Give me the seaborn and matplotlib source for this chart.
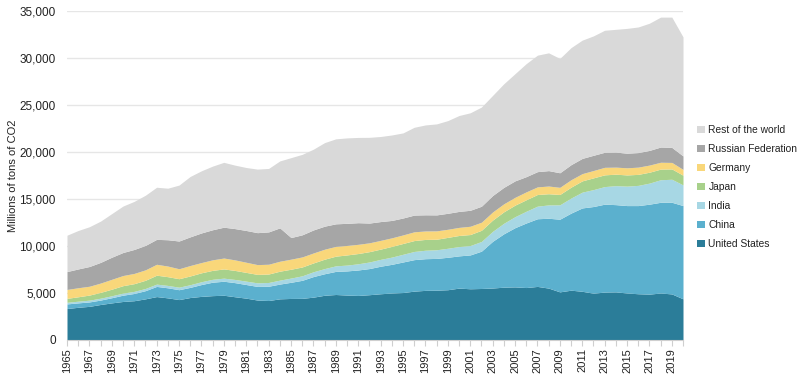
import numpy as np
import seaborn as sns
import matplotlib.pyplot as plt
from matplotlib.ticker import FuncFormatter, MultipleLocator
from matplotlib.patches import Patch

years = list(range(1965, 2021))

# Millions of tons of CO2
united_states = [3350, 3480, 3580, 3780, 3950, 4100, 4180, 4380, 4620, 4480,
                 4300, 4520, 4640, 4720, 4760, 4600, 4450, 4250, 4200, 4380,
                 4420, 4430, 4560, 4760, 4840, 4780, 4740, 4820, 4920, 5000,
                 5050, 5200, 5280, 5300, 5350, 5520, 5450, 5480, 5530, 5620,
                 5650, 5580, 5700, 5520, 5120, 5300, 5180, 4980, 5100, 5120,
                 5000, 4920, 4880, 5000, 4900, 4380]
china = [490, 470, 470, 470, 550, 670, 770, 870, 1080, 1070,
         1050, 1080, 1260, 1430, 1490, 1500, 1450, 1450, 1520, 1570,
         1720, 1920, 2190, 2290, 2460, 2570, 2710, 2780, 2930, 3050,
         3250, 3350, 3370, 3380, 3450, 3430, 3600, 3970, 4970, 5680,
         6300, 6870, 7200, 7430, 7730, 8200, 8870, 9220, 9350, 9280,
         9300, 9380, 9570, 9650, 9750, 9920]
india = [170, 180, 190, 200, 210, 220, 225, 235, 245, 255,
         270, 285, 300, 310, 330, 340, 360, 380, 400, 420,
         450, 480, 510, 550, 590, 620, 660, 700, 730, 770,
         820, 870, 900, 920, 960, 990, 1000, 1030, 1060, 1120,
         1170, 1250, 1340, 1420, 1530, 1600, 1680, 1800, 1870, 2020,
         2070, 2150, 2240, 2400, 2450, 2200]
japan = [420, 470, 540, 620, 700, 790, 820, 870, 950, 930,
         900, 930, 950, 950, 980, 960, 930, 900, 900, 950,
         940, 940, 940, 1000, 1030, 1080, 1090, 1100, 1090, 1140,
         1150, 1160, 1150, 1120, 1160, 1180, 1170, 1190, 1200, 1220,
         1230, 1220, 1240, 1190, 1100, 1160, 1200, 1250, 1250, 1220,
         1190, 1170, 1160, 1130, 1100, 1030]
germany = [950, 960, 940, 990, 1050, 1080, 1090, 1110, 1160, 1130,
           1060, 1110, 1090, 1120, 1160, 1120, 1080, 1040, 1040, 1060,
           1070, 1070, 1060, 1060, 1040, 1010, 980, 940, 930, 910,
           910, 930, 900, 890, 860, 860, 880, 860, 860, 850,
           830, 840, 810, 820, 760, 790, 770, 780, 800, 750,
           760, 770, 760, 730, 690, 620]
russia = [1900, 2000, 2100, 2200, 2350, 2450, 2550, 2600, 2650, 2800,
          2950, 3050, 3150, 3200, 3280, 3330, 3380, 3400, 3440, 3550,
          2300, 2350, 2450, 2450, 2400, 2350, 2300, 2100, 2000, 1850,
          1800, 1780, 1720, 1700, 1700, 1700, 1700, 1700, 1750, 1750,
          1750, 1620, 1620, 1640, 1550, 1600, 1620, 1620, 1600, 1600,
          1550, 1550, 1560, 1620, 1600, 1430]
rest_of_world = [3870, 4090, 4230, 4390, 4640, 4940, 5115, 5335, 5545, 5485,
                 5950, 6425, 6610, 6770, 6900, 6750, 6700, 6760, 6750, 7120,
                 8500, 8560, 8590, 8890, 9040, 9090, 9070, 9120, 9050, 9090,
                 9050, 9340, 9560, 9680, 9860, 10200, 10370, 10550, 10650, 11020,
                 11400, 12020, 12390, 12530, 12160, 12450, 12580, 12700, 12980, 13060,
                 13280, 13360, 13530, 13820, 13860, 12670]

labels = ["United States", "China", "India", "Japan", "Germany",
          "Russian Federation", "Rest of the world"]
colors = ["#2B7D99", "#5BB0CE", "#A7D7E4", "#A8D18B", "#F9D77A",
          "#A6A6A6", "#D9D9D9"]

sns.set_theme(style="white")
plt.rcParams['font.family'] = ['Liberation Sans', 'DejaVu Sans']

fig = plt.figure(figsize=(8, 3.75), dpi=100)
ax = fig.add_axes([67 / 800, 35 / 375, 616 / 800, 329 / 375])

ax.stackplot(years, united_states, china, india, japan, germany, russia,
             rest_of_world, colors=colors, linewidth=0, zorder=2)

ax.set_xlim(1965, 2020)
ax.set_ylim(0, 35000)
ax.yaxis.set_major_locator(MultipleLocator(5000))
ax.yaxis.set_major_formatter(FuncFormatter(lambda v, p: f"{int(v):,}"))
ax.grid(axis="y", color="#e6e6e6", linewidth=1, zorder=0)
ax.set_axisbelow(True)

ax.set_xticks(range(1965, 2021, 2))
ax.set_xticklabels([str(y) for y in range(1965, 2021, 2)], rotation=90)
ax.set_xticks(range(1965, 2021), minor=True)
ax.tick_params(axis="x", which="both", bottom=True, length=4, width=0.8,
               color="#cfcfcf", labelsize=8, pad=2, labelcolor="#222222")
ax.tick_params(axis="y", length=0, labelsize=8.5, labelcolor="#222222", pad=8)

for side in ["top", "right", "left"]:
    ax.spines[side].set_visible(False)
ax.spines["bottom"].set_color("#cfcfcf")
ax.spines["bottom"].set_linewidth(0.8)

ax.set_ylabel("Millions of tons of CO2", fontsize=8, color="#222222")
ax.yaxis.set_label_coords(-0.08, 0.5)

handles = [Patch(facecolor=c, edgecolor="none") for c in colors][::-1]
fig.legend(handles, labels[::-1], loc="center left",
           bbox_to_anchor=(693 / 800, 1 - 187 / 375), frameon=False,
           fontsize=7.4, handlelength=0.75, handleheight=0.75,
           handletextpad=0.35, labelspacing=0.88, borderaxespad=0,
           labelcolor="#222222")

fig.savefig("out.png", dpi=100)
